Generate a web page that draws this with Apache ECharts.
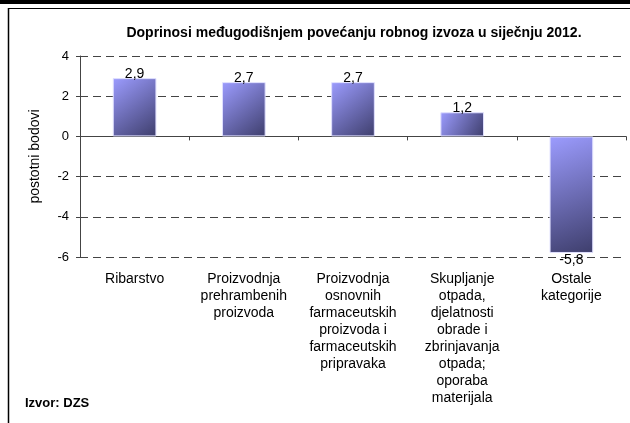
<!DOCTYPE html>
<html>
<head>
<meta charset="utf-8">
<script src="https://cdn.jsdelivr.net/npm/echarts@6/dist/echarts.min.js"></script>
<style>
  html, body { margin: 0; padding: 0; background: #fff; }
  #main { width: 630px; height: 423px; }
</style>
</head>
<body>
<div id="main"></div>
<script>
// podaci
var categories = [
    'Ribarstvo',
    'Proizvodnja\nprehrambenih\nproizvoda',
    'Proizvodnja\nosnovnih\nfarmaceutskih\nproizvoda i\nfarmaceutskih\npripravaka',
    'Skupljanje\notpada,\ndjelatnosti\nobrade i\nzbrinjavanja\notpada;\noporaba\nmaterijala',
    'Ostale\nkategorije'
];
var values = [2.9, 2.7, 2.7, 1.2, -5.8];
var yTicks = [-6, -4, -2, 0, 2, 4];

var chart = echarts.init(document.getElementById('main'));
var font = '"Liberation Sans", Arial, sans-serif';

var barColor = new echarts.graphic.LinearGradient(0, 0, 1, 1, [
    { offset: 0, color: '#9c9cff' },
    { offset: 1, color: '#3e3e6c' }
]);

var option = {
    animation: false,
    textStyle: { fontFamily: font, color: '#000' },
    title: {
        text: 'Doprinosi međugodišnjem povećanju robnog izvoza u siječnju 2012.',
        left: 349, top: 21, textAlign: 'center',
        textStyle: { fontFamily: font, fontSize: 14, fontWeight: 'bold', color: '#000' }
    },
    graphic: [
        { type: 'rect', shape: { x: 0, y: 0, width: 630, height: 4 }, style: { fill: '#000' } },
        { type: 'line', shape: { x1: 8, y1: 8.5, x2: 630, y2: 8.5 }, style: { stroke: '#000', lineWidth: 1 } },
        { type: 'line', shape: { x1: 8.5, y1: 8, x2: 8.5, y2: 423 }, style: { stroke: '#000', lineWidth: 1.5 } },
        {
            type: 'text', left: 25, top: 397,
            style: { text: 'Izvor: DZS', fontFamily: font, fontSize: 13, fontWeight: 'bold', fill: '#000' }
        }
    ],
    grid: { left: 80, right: 4, top: 56, bottom: 166, containLabel: false },
    xAxis: [
        {
            type: 'category',
            data: categories,
            position: 'bottom',
            axisLine: { onZero: true, lineStyle: { color: '#444', width: 1 } },
            axisTick: { show: true, length: 4, inside: false, lineStyle: { color: '#444' } },
            axisLabel: { show: false }
        },
        {
            type: 'category',
            data: categories,
            position: 'bottom',
            axisLine: { show: false, onZero: false },
            axisTick: { show: false },
            axisLabel: {
                show: true, interval: 0, margin: 14,
                fontFamily: font, fontSize: 14, lineHeight: 17, color: '#000', align: 'center'
            }
        }
    ],
    yAxis: {
        type: 'value',
        min: -6, max: 4, interval: 2,
        name: 'postotni bodovi',
        nameLocation: 'middle',
        nameGap: 38,
        nameTextStyle: { fontFamily: font, fontSize: 14, color: '#000' },
        axisLine: { show: true, lineStyle: { color: '#444' } },
        axisTick: { show: true, length: 4, lineStyle: { color: '#444' } },
        axisLabel: {
            margin: 11, fontFamily: font, fontSize: 13, color: '#000',
            formatter: function (v) { return yTicks.indexOf(v) >= 0 ? String(v) : ''; }
        },
        splitLine: { show: true, lineStyle: { color: '#444', type: [8, 5], width: 1 } }
    },
    series: [{
        type: 'bar',
        xAxisIndex: 0,
        barWidth: '40%',
        data: values.map(function (v) {
            return {
                value: v,
                label: {
                    show: true,
                    position: v >= 0 ? 'top' : 'bottom',
                    distance: v >= 0 ? -3 : 0
                }
            };
        }),
        itemStyle: { color: barColor, borderColor: '#e0e0ff', borderWidth: 1 },
        label: {
            fontFamily: font, fontSize: 14, lineHeight: 14, color: '#000',
            formatter: function (p) { return String(p.value).replace('.', ','); }
        }
    }]
};

chart.setOption(option);
</script>
</body>
</html>
